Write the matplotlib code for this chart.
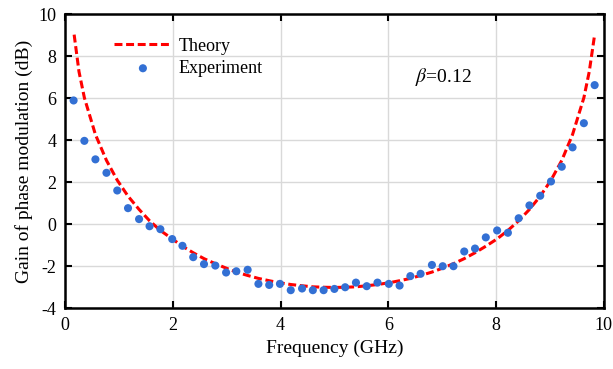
import matplotlib
matplotlib.use("Agg")
import matplotlib.pyplot as plt

freq_exp = [0.16, 0.36, 0.565, 0.77, 0.97, 1.17, 1.375, 1.57, 1.77,
            1.99, 2.18, 2.38, 2.58, 2.79, 2.99, 3.18, 3.39, 3.59, 3.79,
            3.99, 4.19, 4.40, 4.60, 4.80, 5.00, 5.20, 5.40, 5.60, 5.80,
            6.01, 6.21, 6.41, 6.60, 6.81, 7.01, 7.21, 7.41, 7.61, 7.81,
            8.02, 8.22, 8.42, 8.62, 8.82, 9.02, 9.22, 9.42, 9.63, 9.83]
gain_exp = [5.89, 3.97, 3.09, 2.45, 1.61, 0.77, 0.25, -0.09, -0.23,
            -0.70, -1.02, -1.56, -1.89, -1.96, -2.29, -2.23, -2.16, -2.83, -2.88,
            -2.83, -3.13, -3.05, -3.13, -3.13, -3.07, -2.99, -2.77, -2.94, -2.77,
            -2.83, -2.91, -2.46, -2.35, -1.93, -1.99, -1.99, -1.29, -1.15, -0.62,
            -0.29, -0.40, 0.29, 0.90, 1.36, 2.04, 2.74, 3.66, 4.81, 6.62]

# theory curve samples
freq_th = [0.17, 0.26, 0.36, 0.565, 0.77, 0.97, 1.17, 1.375, 1.57, 1.77,
           1.99, 2.18, 2.38, 2.58, 2.79, 2.99, 3.18, 3.39, 3.59, 3.79,
           3.99, 4.19, 4.40, 4.60, 4.80, 5.00, 5.20, 5.40, 5.60, 5.80,
           6.01, 6.21, 6.41, 6.60, 6.81, 7.01, 7.21, 7.41, 7.61, 7.81,
           8.02, 8.22, 8.42, 8.62, 8.82, 9.02, 9.22, 9.42, 9.63, 9.73, 9.83]
gain_th = [9.02, 7.26, 6.02, 4.27, 3.04, 2.10, 1.34, 0.71, 0.17, -0.29,
           -0.69, -1.04, -1.35, -1.63, -1.87, -2.08, -2.27, -2.43, -2.57, -2.68,
           -2.78, -2.86, -2.92, -2.97, -2.99, -3.00, -2.99, -2.97, -2.92, -2.86,
           -2.78, -2.68, -2.57, -2.43, -2.27, -2.08, -1.87, -1.63, -1.35, -1.04,
           -0.69, -0.29, 0.17, 0.71, 1.34, 2.10, 3.04, 4.27, 6.02, 7.26, 9.02]

xticks = [0, 2, 4, 6, 8, 10]
yticks = [-4, -2, 0, 2, 4, 6, 8, 10]

plt.rcParams["font.family"] = ["Liberation Serif", "DejaVu Serif"]
plt.rcParams["mathtext.fontset"] = "stix"
plt.rcParams["axes.unicode_minus"] = False

fig = plt.figure(figsize=(6.13, 3.69), dpi=100)
ax = fig.add_axes([0.106, 0.164, 0.879, 0.798])

ax.grid(True, color="#d9d9d9", linewidth=1.0, zorder=0)
ax.plot(freq_th, gain_th, color="#ff0000", linewidth=2.2, dashes=(2.6, 1.2),
        label="Theory", zorder=2)
ax.scatter(freq_exp, gain_exp, s=34, color="#3370d4", edgecolors="none",
           label="Experiment", zorder=3)

ax.set_xlim(0, 10)
ax.set_ylim(-4, 10)
ax.set_xticks(xticks)
ax.set_yticks(yticks)
ax.tick_params(direction="in", top=True, right=True, length=5, width=1.5,
               labelsize=13, pad=6)
for sp in ax.spines.values():
    sp.set_linewidth(1.8)

ax.set_xlabel("Frequency (GHz)", fontsize=14, labelpad=4)
ax.set_ylabel("Gain of phase modulation (dB)", fontsize=14, labelpad=4)

ax.text(0.65, 0.786, r"$\beta$=0.12", transform=ax.transAxes, fontsize=14,
        va="center")

ax.legend(loc="upper left", bbox_to_anchor=(0.091, 0.92), frameon=False,
          fontsize=13, handlelength=3.2, handletextpad=0.4, labelspacing=0.3,
          borderaxespad=0, borderpad=0)

fig.savefig("out.png", dpi=100)
